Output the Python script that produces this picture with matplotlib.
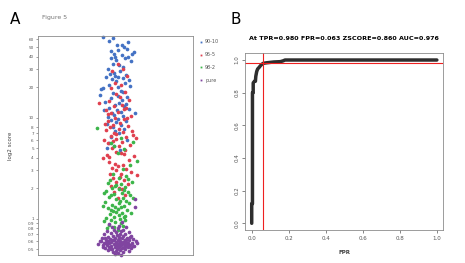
import matplotlib
matplotlib.use("Agg")
import matplotlib.pyplot as plt
from matplotlib.lines import Line2D

# ---- panel A: score por grupo (jitter en px respecto al centro, score en escala log) ----
grupos = ["90-10", "95-5", "98-2", "pure"]
colores = ["#4472C4", "#E0404F", "#3CB54A", "#8045A0"]

blue_y = [63, 61, 57, 55.8, 53, 52, 48, 47, 46, 44.5,
          42.6, 41.7, 40, 40, 38.6, 38.6, 37, 36, 34, 32,
          30.3, 29, 28, 27, 26.5, 25.5, 25, 24.5, 24, 23.5,
          23, 22, 21, 20.3, 19.7, 19.2, 18.5, 17.9, 17.4, 16.7,
          16, 15.5, 15, 14.4, 14, 13.5, 13, 12.5, 12.2, 12,
          11.5, 11.2, 11, 10.7, 10.4, 10.1, 9.8, 9.5, 9.2, 9,
          8.7, 8.4, 8.1, 7.8, 7.4, 7, 6.5, 6, 5.6, 5.3,
          5, 4.8, 11.8, 13.8, 16.3, 20.8, 26, 33, 43, 50]
blue_x = [-14, -4, -8, 11, 0, 5, 10, 1, -6, 17,
          15, 5, -2, 11, -6, 8, -1, 14, -4, 6,
          -9, 3, -3, -7, 9, -11, 1, 6, -5, 12,
          -1, 8, -8, 1, -14, -16, 4, 6, -4, -17,
          10, -6, 5, -12, 2, -2, 7, -8, 12, 0,
          4, -5, 18, -3, 6, -9, 1, -6, 9, -1,
          -10, 4, -4, 7, -2, 2, -6, 10, -8, -3,
          -10, 3, -13, 9, 1, 13, -2, 2, -3, 7]

red_y = [34, 30, 29, 26, 22, 21, 19.5, 18, 17, 16,
         15, 14.5, 13.9, 13.5, 13, 12.5, 12, 11.5, 11, 10.5,
         10, 9.6, 9.2, 8.8, 8.5, 8.2, 8, 7.8, 7.5, 7.2,
         7, 6.8, 6.6, 6.4, 6.3, 6.2, 6, 5.8, 5.6, 5.4,
         5.2, 5, 4.8, 4.6, 4.5, 4.3, 4.2, 4.1, 4, 3.8,
         3.5, 3.4, 3.3, 3.2, 3.1, 3, 2.9, 2.8, 2.7, 2.6,
         2.5, 2.4, 2.3, 2.2, 2.1, 2, 1.95, 1.85, 1.7, 1.6,
         9.9, 8.6, 7.3, 5.9, 12.2, 10.8, 6.9, 4.4, 3.6, 2.75]
red_x = [1, 6, -5, 10, -2, 4, -6, 8, -1, 3,
         12, -8, -18, 5, -3, 9, -11, 1, -6, 14,
         -2, 7, -9, 3, -4, 11, -7, 2, -11, 6,
         -3, 16, -6, 9, 19, -1, -13, 5, -9, 13,
         2, -5, 8, -1, 4, -10, 17, -8, -14, 12,
         -2, 6, 1, -5, 9, -1, 14, -7, 20, 3,
         -4, 7, -1, 11, -6, 2, 5, -3, 8, 1,
         10, -12, 15, -4, 7, -9, -1, 7, -8, 4]

green_y = [7.9, 6.3, 5.8, 5.6, 5.2, 4.9, 4.5, 3.7, 3.4, 3.1,
           2.8, 2.65, 2.5, 2.4, 2.3, 2.2, 2.15, 2.05, 2, 1.95,
           1.9, 1.85, 1.8, 1.75, 1.7, 1.65, 1.6, 1.55, 1.5, 1.46,
           1.42, 1.38, 1.35, 1.32, 1.3, 1.27, 1.24, 1.21, 1.18, 1.15,
           1.12, 1.1, 1.07, 1.05, 1.02, 1, 0.98, 0.96, 0.93, 0.9,
           0.87, 0.85, 0.83, 0.8, 0.78, 1.92, 1.72, 1.62, 1.44, 1.33,
           1.22, 1.13, 2.25, 2.45, 1.78, 1.48, 1.16, 1.03, 0.95, 2.1]
green_x = [-20, 4, 16, -6, -3, 7, 1, 20, 13, 6,
           -4, 9, 2, -7, 15, 4, -1, 8, -5, 2,
           -11, 11, 5, -3, 13, -8, 6, -1, 9, -12,
           2, -5, 7, -2, 4, -9, 1, 10, -4, 5,
           -7, 2, 8, -3, -11, 3, -6, 8, -2, 4,
           -8, 6, -3, -10, 1, 7, -6, 16, 12, -14,
           -6, 14, -9, 11, -13, 3, -1, 7, -13, -2]

purple_y = [1.55, 1.3, 0.92, 0.88, 0.85, 0.83, 0.82, 0.8, 0.78, 0.77,
            0.76, 0.75, 0.74, 0.73, 0.72, 0.71, 0.7, 0.7, 0.69, 0.68,
            0.68, 0.67, 0.66, 0.66, 0.65, 0.65, 0.64, 0.64, 0.63, 0.63,
            0.62, 0.62, 0.62, 0.61, 0.61, 0.6, 0.6, 0.6, 0.59, 0.59,
            0.59, 0.58, 0.58, 0.58, 0.57, 0.57, 0.57, 0.56, 0.56, 0.56,
            0.55, 0.55, 0.55, 0.55, 0.54, 0.54, 0.54, 0.53, 0.53, 0.53,
            0.52, 0.52, 0.52, 0.51, 0.51, 0.51, 0.5, 0.5, 0.5, 0.49,
            0.49, 0.48, 0.48, 0.47, 0.47, 0.46, 0.45, 0.44, 0.6, 0.58,
            0.63, 0.57, 0.55, 0.53, 0.61, 0.66, 0.59, 0.56, 0.54, 0.62,
            0.57, 0.6, 0.52, 0.65, 0.58, 0.55, 0.61, 0.5, 0.64, 0.56]
purple_x = [18, 18, 5, -8, 2, -5, 9, 1, -3, 6,
            -10, 4, -1, 12, -6, 3, -13, 8, 0, -4,
            14, 6, -9, 2, -15, 10, -2, 5, -7, 16,
            1, -11, 8, -4, 12, -17, 3, 19, -6, 9,
            -1, -13, 6, 15, -8, 2, 11, -3, 7, -19,
            4, -10, 13, 0, -6, 9, 17, -14, 2, 7,
            -2, 11, -8, 5, -12, 14, 0, 8, -5, 3,
            -9, 12, -1, 6, -4, 1, -2, 4, -16, 20,
            10, -11, 3, -7, -3, 13, 6, -1, 16, -5,
            9, -9, 1, -12, 4, -14, 8, -6, 2, 11]

ticks_a = [0.5, 0.6, 0.7, 0.8, 0.9, 1, 2, 3, 4, 5, 6, 7, 8, 10, 20, 30, 40, 50, 60]
tick_labels_a = ["0.5", "0.6", "0.7", "0.8", "0.9", "1", "2", "3", "4", "5",
                 "6", "7", "8", "10", "20", "30", "40", "50", "60"]

# ---- panel B: curva ROC ----
fpr = [0, 0, 0.004, 0.004, 0.008, 0.008, 0.015, 0.02, 0.022, 0.027,
       0.032, 0.04, 0.047, 0.056, 0.063, 0.08, 0.12, 0.155, 0.17, 0.18, 1.0]
tpr = [0, 0.12, 0.12, 0.80, 0.80, 0.86, 0.87, 0.87, 0.90, 0.93,
       0.945, 0.955, 0.965, 0.975, 0.98, 0.983, 0.988, 0.99, 0.995, 1.0, 1.0]
tpr_corte = 0.980
fpr_corte = 0.063
titulo_b = "At TPR=0.980 FPR=0.063 ZSCORE=0.860 AUC=0.976"

gris = "#8c8c8c"
fig = plt.figure(figsize=(4.65, 2.63), dpi=100)

ax = fig.add_axes([0.0817, 0.030, 0.333, 0.833])
series = [(blue_x, blue_y), (red_x, red_y), (green_x, green_y), (purple_x, purple_y)]
for (xs, ys), c, g in zip(series, colores, grupos):
    ax.scatter(xs, ys, s=7, color=c, linewidths=0, label=g, clip_on=False)
ax.set_yscale("log")
ax.set_xlim(-79, 76)
ax.set_ylim(0.436, 64.3)
ax.set_xticks([])
ax.set_yticks(ticks_a)
ax.set_yticklabels(tick_labels_a)
ax.yaxis.set_minor_locator(matplotlib.ticker.NullLocator())
ax.tick_params(axis="y", labelsize=3, length=1.5, width=0.4, colors="#555555", pad=1.5)
for s in ax.spines.values():
    s.set_color(gris)
    s.set_linewidth(0.6)
ax.set_ylabel("log2 score", fontsize=4, color="#444444", labelpad=10)

handles = [Line2D([], [], linestyle="none", marker="s", markersize=1.3,
                  markerfacecolor=c, markeredgewidth=0) for c in colores]
leg = ax.legend(handles, grupos, loc="upper left", bbox_to_anchor=(1.02, 1.0),
                frameon=False, fontsize=3.5, handlelength=0.6, handletextpad=0.6,
                labelspacing=1.6, borderaxespad=0.3)
for t in leg.get_texts():
    t.set_color("#555555")

fig.text(0.032, 0.925, "A", fontsize=11, ha="center", va="center")
fig.text(0.09, 0.935, "Figure 5", fontsize=4.5, color="#777777", ha="left", va="center")

# panel B
bx = fig.add_axes([0.527, 0.1255, 0.426, 0.673])
bx.plot(fpr, tpr, color="#2e2e2e", lw=2.5, solid_joinstyle="round", solid_capstyle="round")
bx.axvline(fpr_corte, color="#ee2020", lw=0.8)
bx.axhline(tpr_corte, color="#ee2020", lw=0.8)
bx.set_xlim(-0.036, 1.034)
bx.set_ylim(-0.041, 1.043)
bx.set_xticks([0, 0.2, 0.4, 0.6, 0.8, 1.0])
bx.set_yticks([0, 0.2, 0.4, 0.6, 0.8, 1.0])
bx.set_xticklabels(["0.0", "0.2", "0.4", "0.6", "0.8", "1.0"])
bx.set_yticklabels(["0.0", "0.2", "0.4", "0.6", "0.8", "1.0"], rotation=90, va="center")
bx.tick_params(labelsize=4, length=2, width=0.5, colors="#555555", pad=2)
for s in bx.spines.values():
    s.set_color(gris)
    s.set_linewidth(0.6)
bx.set_title(titulo_b, fontsize=4.6, fontweight="bold", pad=9)
bx.set_xlabel("FPR", fontsize=4, fontweight="bold", color="#444444", labelpad=7)
fig.text(0.507, 0.925, "B", fontsize=11, ha="center", va="center")

fig.savefig("out.png", dpi=100)
